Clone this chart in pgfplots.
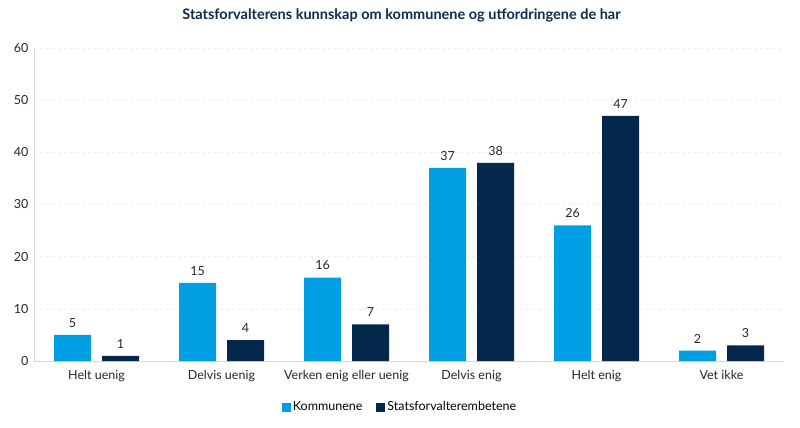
\documentclass[border=0pt]{standalone}
\usepackage{pgfplots}
\pgfplotsset{compat=1.18}
\usepackage{fontspec}
\setmainfont{Lato}
\definecolor{lblue}{HTML}{009FE3}
\definecolor{navy}{HTML}{03284C}
\definecolor{titlec}{HTML}{0D2B4E}
\definecolor{axgray}{HTML}{D9D9D9}
\begin{document}
\begin{tikzpicture}
\path[use as bounding box] (-34pt,-67pt) rectangle (766pt,361pt);
\begin{axis}[
  at={(0,0)}, anchor=south west,
  scale only axis, width=750pt, height=313pt,
  ybar=11pt, bar width=37pt,
  xmin=-0.5, xmax=5.5, ymin=0, ymax=60,
  ytick={0,10,...,60},
  xtick={0,...,5},
  xticklabels={Helt uenig, Delvis uenig, Verken enig eller uenig, Delvis enig, Helt enig, Vet ikke},
  axis x line*=bottom, axis y line*=left,
  axis line style={axgray, line width=0.8pt, -},
  major tick length=0pt,
  ymajorgrids, grid style={gray!14, dashed, line width=0.5pt},
  /pgf/number format/assume math mode=true,
  font=\fontsize{12.5}{15}\selectfont,
  tick label style={font=\fontsize{12.5}{15}\selectfont, black!85},
  xticklabel style={yshift=-6pt},
  yticklabel style={xshift=-2pt},
  nodes near coords,
  nodes near coords style={font=\fontsize{12.5}{15}\selectfont, black!85, yshift=4pt},
  title={\bfseries Statsforvalterens kunnskap om kommunene og utfordringene de har},
  title style={font=\fontsize{14.5}{18}\selectfont, color=titlec, at={(axis description cs:0.49,1)}, anchor=center, yshift=27pt},
  legend style={at={(axis description cs:0.488,0)}, anchor=center, yshift=-46pt, draw=none, font=\fontsize{12.5}{15}\selectfont, /tikz/every even column/.append style={column sep=12pt}},
  legend columns=2,
  legend image code/.code={\fill[#1] (0,-4.5pt) rectangle (9pt,4.5pt);},
]
\addplot[fill=lblue, draw=none] coordinates {(0,5) (1,15) (2,16) (3,37) (4,26) (5,2)};
\addplot[fill=navy, draw=none] coordinates {(0,1) (1,4) (2,7) (3,38) (4,47) (5,3)};
\legend{Kommunene, Statsforvalterembetene}
\end{axis}
\end{tikzpicture}
\end{document}
